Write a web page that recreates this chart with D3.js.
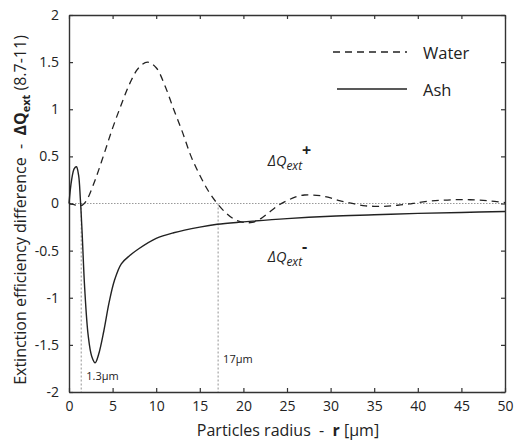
<!DOCTYPE html>
<html>
<head>
<meta charset="utf-8">
<script src="https://cdn.jsdelivr.net/npm/d3@7"></script>
<style>
  body { margin: 0; background: #fff; }
  svg { font-family: "Open Sans", "Noto Sans", sans-serif; }
</style>
</head>
<body>
<div id="chart"></div>
<script>
// Data
var ashR   = [0, 0.3, 0.6, 0.85, 1.1, 1.3, 1.5, 1.8, 2.2, 2.6, 3.0, 3.4, 4.0, 4.6, 5.2, 6.0, 7.0, 8.0, 10, 12, 15, 17, 20, 25, 30, 35, 40, 45, 50];
var ashQ   = [0, 0.25, 0.37, 0.39, 0.3, 0.05, -0.3, -0.9, -1.4, -1.62, -1.69, -1.6, -1.35, -1.05, -0.82, -0.64, -0.55, -0.48, -0.37, -0.31, -0.25, -0.22, -0.195, -0.16, -0.135, -0.12, -0.105, -0.095, -0.085];

var waterR = [0, 0.5, 1.0, 1.5, 2, 3, 4, 5, 6, 7, 8, 9, 10, 11, 12, 13, 14, 15, 16, 17, 18, 19, 20, 21, 22, 23, 24, 25, 26, 27, 28, 29, 30, 31, 32, 33, 34, 35, 36, 37, 38, 39, 40, 42, 44, 46, 48, 50];
var waterQ = [0, -0.01, -0.02, -0.02, 0.03, 0.25, 0.52, 0.8, 1.05, 1.28, 1.44, 1.5, 1.44, 1.25, 1.0, 0.76, 0.5, 0.3, 0.13, 0.0, -0.1, -0.17, -0.2, -0.2, -0.16, -0.09, -0.02, 0.03, 0.07, 0.09, 0.09, 0.08, 0.06, 0.03, 0.01, -0.01, -0.025, -0.03, -0.03, -0.025, -0.015, -0.005, 0.01, 0.03, 0.04, 0.04, 0.03, 0.01];

var xTicks = [0, 5, 10, 15, 20, 25, 30, 35, 40, 45, 50];
var yTicks = [-2, -1.5, -1, -0.5, 0, 0.5, 1, 1.5, 2];
var markR = [1.4, 17.1];
var markLabels = ['1.3\u00b5m', '17\u00b5m'];

var width = 514, height = 445;
var margin = { left: 69, right: 9, top: 15, bottom: 53 };
var chartWidth = width - margin.left - margin.right;
var chartHeight = height - margin.top - margin.bottom;
var ink = '#222';

var svg = d3.select('#chart').append('svg')
    .attr('width', width)
    .attr('height', height);

var g = svg.append('g')
    .attr('transform', 'translate(' + margin.left + ',' + margin.top + ')');

var xScale = d3.scaleLinear().domain([0, 50]).range([0, chartWidth]);
var yScale = d3.scaleLinear().domain([-2, 2]).range([chartHeight, 0]);

// zero line and markers (dotted)
g.append('line')
    .attr('x1', 0).attr('x2', chartWidth)
    .attr('y1', yScale(0)).attr('y2', yScale(0))
    .attr('stroke', '#999').attr('stroke-width', 1)
    .attr('stroke-dasharray', '1.5,1.5');

g.selectAll('line.mark').data(markR).enter()
  .append('line')
    .attr('class', 'mark')
    .attr('x1', d => xScale(d)).attr('x2', d => xScale(d))
    .attr('y1', yScale(0)).attr('y2', chartHeight)
    .attr('stroke', '#777').attr('stroke-width', 0.8)
    .attr('stroke-dasharray', '2,2');

// axes, ticks inside; labels use a plain hyphen like the original
var fmt = d => String(d);
var xAxis = d3.axisBottom(xScale).tickValues(xTicks).tickSizeInner(-4).tickSizeOuter(0).tickPadding(9).tickFormat(fmt);
var yAxis = d3.axisLeft(yScale).tickValues(yTicks).tickSizeInner(-4).tickSizeOuter(0).tickPadding(10).tickFormat(fmt);
var xTop = d3.axisTop(xScale).tickValues(xTicks).tickSizeInner(-4).tickSizeOuter(0).tickFormat('');
var yRight = d3.axisRight(yScale).tickValues(yTicks).tickSizeInner(-4).tickSizeOuter(0).tickFormat('');

g.append('g').attr('class', 'axis x').attr('transform', 'translate(0,' + chartHeight + ')').call(xAxis);
g.append('g').attr('class', 'axis y').call(yAxis);
g.append('g').attr('class', 'axis top').call(xTop);
g.append('g').attr('class', 'axis right').attr('transform', 'translate(' + chartWidth + ',0)').call(yRight);

g.selectAll('.axis path').attr('stroke', '#333').attr('stroke-width', 1.4);
g.selectAll('.axis line').attr('stroke', '#333').attr('stroke-width', 1.2);
g.selectAll('.axis text').attr('fill', ink).attr('font-size', 14)
    .attr('font-family', '"Open Sans", "Noto Sans", sans-serif');

// curves
var line = d3.line()
    .x(d => xScale(d[0]))
    .y(d => yScale(d[1]))
    .curve(d3.curveCatmullRom.alpha(0.5));

var water = waterR.map((r, i) => [r, waterQ[i]]);
var ash = ashR.map((r, i) => [r, ashQ[i]]);

g.append('path').datum(water)
    .attr('d', line)
    .attr('fill', 'none').attr('stroke', ink).attr('stroke-width', 1.3)
    .attr('stroke-dasharray', '7,5');

g.append('path').datum(ash)
    .attr('d', line)
    .attr('fill', 'none').attr('stroke', ink).attr('stroke-width', 1.4);

// marker labels
g.selectAll('text.marklabel').data(markR).enter()
  .append('text')
    .attr('class', 'marklabel')
    .attr('x', d => xScale(d) + 5)
    .attr('y', (d, i) => i === 0 ? chartHeight - 12 : chartHeight - 29)
    .attr('font-size', 11).attr('fill', ink)
    .text((d, i) => markLabels[i]);

// legend
var legend = g.append('g').attr('transform', 'translate(' + (chartWidth - 172) + ',37)');
legend.append('line').attr('x1', 0).attr('x2', 74).attr('y1', 0).attr('y2', 0)
    .attr('stroke', ink).attr('stroke-width', 1.3).attr('stroke-dasharray', '7,5');
legend.append('text').attr('x', 90).attr('y', 7).attr('font-size', 16.5).attr('fill', ink).text('Water');
legend.append('line').attr('x1', 4).attr('x2', 74).attr('y1', 37).attr('y2', 37)
    .attr('stroke', ink).attr('stroke-width', 1.4);
legend.append('text').attr('x', 90).attr('y', 44).attr('font-size', 16.5).attr('fill', ink).text('Ash');

// delta Q annotations
function dq(x, y, sign) {
  var t = g.append('text').attr('x', x).attr('y', y).attr('font-size', 14.5)
      .attr('font-style', 'italic').attr('fill', ink);
  t.append('tspan').text('\u0394Q');
  t.append('tspan').attr('font-size', 12).attr('dy', 4).text('ext');
  t.append('tspan').attr('font-size', 16).attr('font-weight', 'bold').attr('font-style', 'normal')
      .attr('dy', -14).text(sign);
}
dq(xScale(22.8), yScale(0.4), '+');
dq(xScale(22.8), yScale(-0.62), '-');

// axis titles
var sp = '\u00a0';
var xTitle = svg.append('text')
    .attr('x', margin.left + chartWidth / 2 + 1)
    .attr('y', height - 9)
    .attr('text-anchor', 'middle')
    .attr('font-size', 16).attr('fill', ink);
xTitle.append('tspan').text('Particles radius ' + sp + '-' + sp + ' ');
xTitle.append('tspan').attr('font-weight', 'bold').text('r');
xTitle.append('tspan').text(' [\u00b5m]');

var yTitle = svg.append('text')
    .attr('transform', 'translate(26,210) rotate(-90)')
    .attr('text-anchor', 'middle')
    .attr('font-size', 16).attr('fill', ink);
yTitle.append('tspan').text('Extinction efficiency difference ' + sp + '-' + sp + ' ');
yTitle.append('tspan').attr('font-weight', 'bold').text('\u0394Q');
yTitle.append('tspan').attr('font-weight', 'bold').attr('font-size', 11).attr('dy', 4).text('ext');
yTitle.append('tspan').attr('dy', -4).text(' (8.7-11)');
</script>
</body>
</html>
